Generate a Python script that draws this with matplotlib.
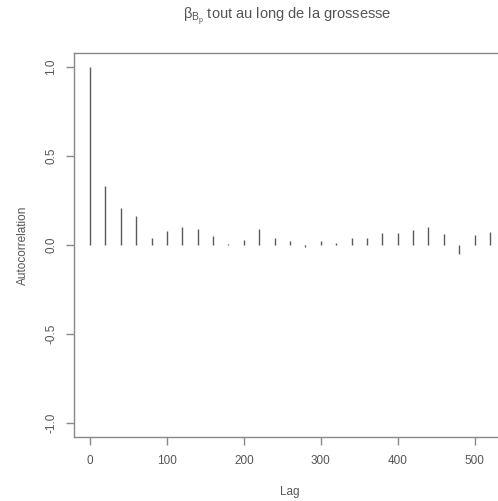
import numpy as np
import matplotlib.pyplot as plt

# ACF values
lags = np.arange(0, 540, 20)
acf = [1.0, 0.33, 0.21, 0.165, 0.04, 0.08, 0.10, 0.09, 0.05, 0.006,
       0.03, 0.09, 0.04, 0.024, -0.01, 0.02, 0.01, 0.04, 0.04, 0.07,
       0.07, 0.085, 0.10, 0.06, -0.05, 0.055, 0.075]
yticks = [-1.0, -0.5, 0.0, 0.5, 1.0]
xticks = [0, 100, 200, 300, 400, 500]

plt.rcParams['font.family'] = ['Liberation Sans', 'DejaVu Sans']
plt.rcParams['mathtext.fontset'] = 'custom'
plt.rcParams['mathtext.rm'] = 'Liberation Sans'
plt.rcParams['mathtext.it'] = 'Liberation Sans'

fig = plt.figure(figsize=(4.98, 5.01), dpi=100)
ax = fig.add_axes([74 / 498, 64 / 501, 432 / 498, 384 / 501])

ax.vlines(lags, 0, acf, color='#5a5a5a', lw=1.0)

ax.set_xlim(-20.8, 540.8)
ax.set_ylim(-1.08, 1.08)
ax.set_xticks(xticks)
ax.set_yticks(yticks)
ax.set_yticklabels([f'{v:.1f}' for v in yticks], rotation=90, va='center')

for s in ax.spines.values():
    s.set_color('#888888')
    s.set_linewidth(1.0)
ax.tick_params(colors='#888888', labelcolor='#555555', labelsize=8.5,
               length=6, width=1.0, pad=7)
ax.tick_params(axis='y', pad=6)

ax.set_xlabel('Lag', fontsize=8.5, color='#555555', labelpad=14)
ax.set_ylabel('Autocorrelation', fontsize=8.5, color='#555555', labelpad=12)
fig.text(0.577, 0.968, r'$\beta_{B_p}$ tout au long de la grossesse',
         ha='center', va='center', fontsize=10.5, color='#555555')

fig.savefig('out.png', dpi=100)
